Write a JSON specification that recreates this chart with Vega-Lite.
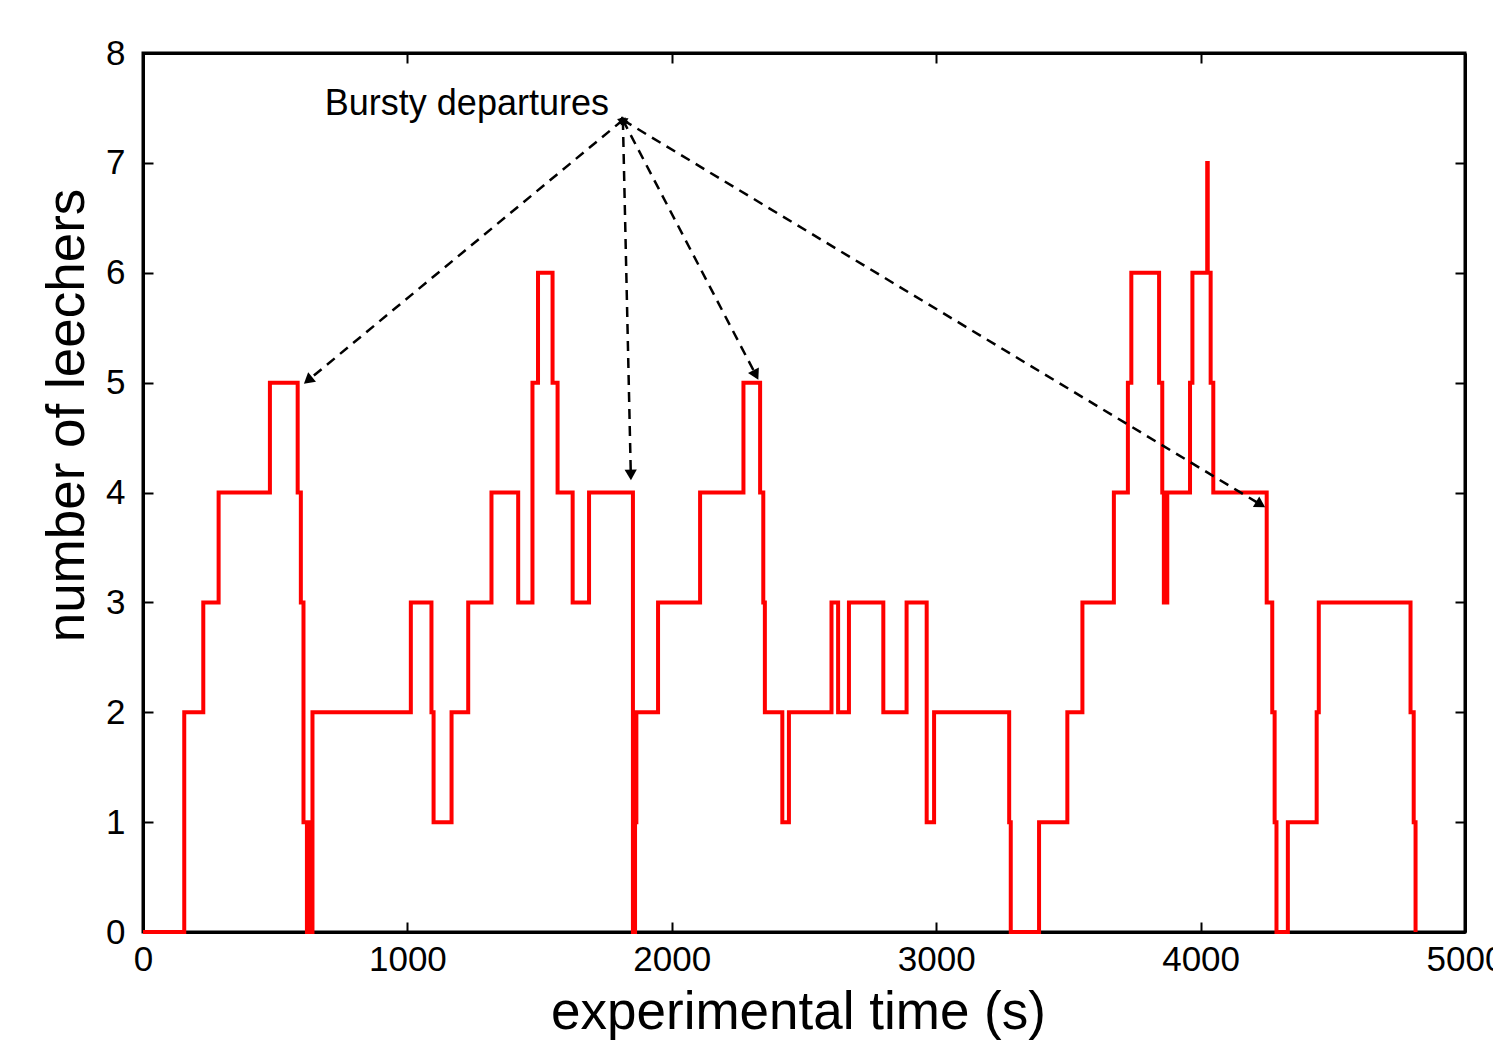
{
  "$schema": "https://vega.github.io/schema/vega-lite/v6.json",
  "width": 1322,
  "height": 879,
  "autosize": {"type": "none"},
  "padding": {"left": 143, "top": 53, "right": 28, "bottom": 110},
  "background": "white",
  "config": {
    "view": {"stroke": "black", "strokeWidth": 3},
    "font": "Liberation Sans",
    "axis": {
      "grid": false,
      "domainColor": "black",
      "domainWidth": 3,
      "tickColor": "black",
      "tickWidth": 2,
      "tickSize": -10,
      "labelFont": "Liberation Sans",
      "labelFontSize": 35,
      "labelColor": "black",
      "labelFlush": false,
      "labelOverlap": false,
      "titleFont": "Liberation Sans",
      "titleFontSize": 53,
      "titleFontWeight": "normal",
      "titleColor": "black"
    }
  },
  "datasets": {
    "steps": [
      {"t": 0, "n": 0}, {"t": 156, "n": 2}, {"t": 228, "n": 3}, {"t": 286, "n": 4},
      {"t": 480, "n": 5}, {"t": 585, "n": 4}, {"t": 597, "n": 3}, {"t": 607, "n": 1},
      {"t": 620, "n": 0}, {"t": 632, "n": 1}, {"t": 636, "n": 0}, {"t": 641, "n": 2},
      {"t": 1013, "n": 3}, {"t": 1091, "n": 2}, {"t": 1099, "n": 1}, {"t": 1167, "n": 2},
      {"t": 1230, "n": 3}, {"t": 1318, "n": 4}, {"t": 1419, "n": 3}, {"t": 1473, "n": 5},
      {"t": 1494, "n": 6}, {"t": 1549, "n": 5}, {"t": 1568, "n": 4}, {"t": 1625, "n": 3},
      {"t": 1687, "n": 4}, {"t": 1853, "n": 0}, {"t": 1861, "n": 1}, {"t": 1866, "n": 2},
      {"t": 1948, "n": 3}, {"t": 2107, "n": 4}, {"t": 2271, "n": 5}, {"t": 2334, "n": 4},
      {"t": 2346, "n": 3}, {"t": 2352, "n": 2}, {"t": 2418, "n": 1}, {"t": 2443, "n": 2},
      {"t": 2604, "n": 3}, {"t": 2629, "n": 2}, {"t": 2670, "n": 3}, {"t": 2800, "n": 2},
      {"t": 2888, "n": 3}, {"t": 2964, "n": 1}, {"t": 2992, "n": 2}, {"t": 3276, "n": 1},
      {"t": 3282, "n": 0}, {"t": 3389, "n": 1}, {"t": 3496, "n": 2}, {"t": 3553, "n": 3},
      {"t": 3672, "n": 4}, {"t": 3725, "n": 5}, {"t": 3738, "n": 6}, {"t": 3843, "n": 5},
      {"t": 3855, "n": 4}, {"t": 3861, "n": 3}, {"t": 3874, "n": 4}, {"t": 3960, "n": 5},
      {"t": 3969, "n": 6}, {"t": 4025, "n": 7}, {"t": 4027, "n": 6}, {"t": 4038, "n": 5},
      {"t": 4048, "n": 4}, {"t": 4250, "n": 3}, {"t": 4271, "n": 2}, {"t": 4280, "n": 1},
      {"t": 4287, "n": 0}, {"t": 4330, "n": 1}, {"t": 4439, "n": 2}, {"t": 4447, "n": 3},
      {"t": 4794, "n": 2}, {"t": 4806, "n": 1}, {"t": 4813, "n": 0}
    ],
    "arrows": [
      {"t1": 1815, "n1": 7.39, "t2": 624, "n2": 5.02},
      {"t1": 1815, "n1": 7.39, "t2": 1845, "n2": 4.16},
      {"t1": 1815, "n1": 7.39, "t2": 2318, "n2": 5.07},
      {"t1": 1815, "n1": 7.39, "t2": 4227, "n2": 3.89}
    ],
    "label": [
      {"t": 1225, "n": 7.44, "text": "Bursty departures"}
    ]
  },
  "layer": [
    {
      "data": {"name": "steps"},
      "mark": {"type": "line", "interpolate": "step-after", "color": "#ff0000", "strokeWidth": 4},
      "encoding": {
        "x": {"field": "t", "type": "quantitative", "scale": {"domain": [0, 5000], "nice": false},
              "axis": {"title": "experimental time (s)", "format": "d", "values": [0, 1000, 2000, 3000, 4000, 5000], "labelPadding": 20, "titleBaseline": "alphabetic", "titleY": 96, "titleX": 655, "titleAnchor": null}},
        "y": {"field": "n", "type": "quantitative", "scale": {"domain": [0, 8], "nice": false},
              "axis": {"title": "number of leechers", "format": "d", "values": [0, 1, 2, 3, 4, 5, 6, 7, 8], "labelPadding": 28, "titleAngle": -90, "titleBaseline": "alphabetic", "titleX": -60, "titleY": 362, "titleAnchor": null}}
      }
    },
    {
      "data": {"name": "arrows"},
      "mark": {"type": "rule", "color": "black", "strokeWidth": 2.5, "strokeDash": [10, 7]},
      "encoding": {
        "x": {"field": "t1", "type": "quantitative", "axis": null},
        "y": {"field": "n1", "type": "quantitative", "axis": null},
        "x2": {"field": "t2"},
        "y2": {"field": "n2"}
      }
    },
    {
      "data": {"name": "arrows"},
      "transform": [
        {"calculate": "atan2((datum.t2 - datum.t1) * 0.2644, (datum.n2 - datum.n1) * 109.9) * 180 / PI", "as": "ang"}
      ],
      "mark": {"type": "point", "shape": "triangle-up", "filled": true, "color": "black", "size": 150, "opacity": 1},
      "encoding": {
        "x": {"field": "t2", "type": "quantitative", "axis": null},
        "y": {"field": "n2", "type": "quantitative", "axis": null},
        "angle": {"field": "ang", "type": "quantitative", "scale": null}
      }
    },
    {
      "data": {"name": "arrows"},
      "transform": [
        {"calculate": "atan2((datum.t1 - datum.t2) * 0.2644, (datum.n1 - datum.n2) * 109.9) * 180 / PI", "as": "ang"}
      ],
      "mark": {"type": "point", "shape": "triangle-up", "filled": true, "color": "black", "size": 80, "opacity": 1},
      "encoding": {
        "x": {"field": "t1", "type": "quantitative", "axis": null},
        "y": {"field": "n1", "type": "quantitative", "axis": null},
        "angle": {"field": "ang", "type": "quantitative", "scale": null}
      }
    },
    {
      "data": {"name": "label"},
      "mark": {"type": "text", "font": "Liberation Sans", "fontSize": 36, "color": "black", "align": "center", "baseline": "alphabetic"},
      "encoding": {
        "x": {"field": "t", "type": "quantitative", "axis": null},
        "y": {"field": "n", "type": "quantitative", "axis": null},
        "text": {"field": "text"}
      }
    },
    {
      "data": {"name": "label"},
      "mark": {"type": "point", "opacity": 0},
      "encoding": {
        "x": {"field": "t", "type": "quantitative",
              "axis": {"orient": "top", "title": null, "labels": false, "values": [0, 1000, 2000, 3000, 4000, 5000]}},
        "y": {"field": "n", "type": "quantitative",
              "axis": {"orient": "right", "title": null, "labels": false, "values": [0, 1, 2, 3, 4, 5, 6, 7, 8]}}
      }
    }
  ],
  "resolve": {"axis": {"x": "independent", "y": "independent"}}
}
